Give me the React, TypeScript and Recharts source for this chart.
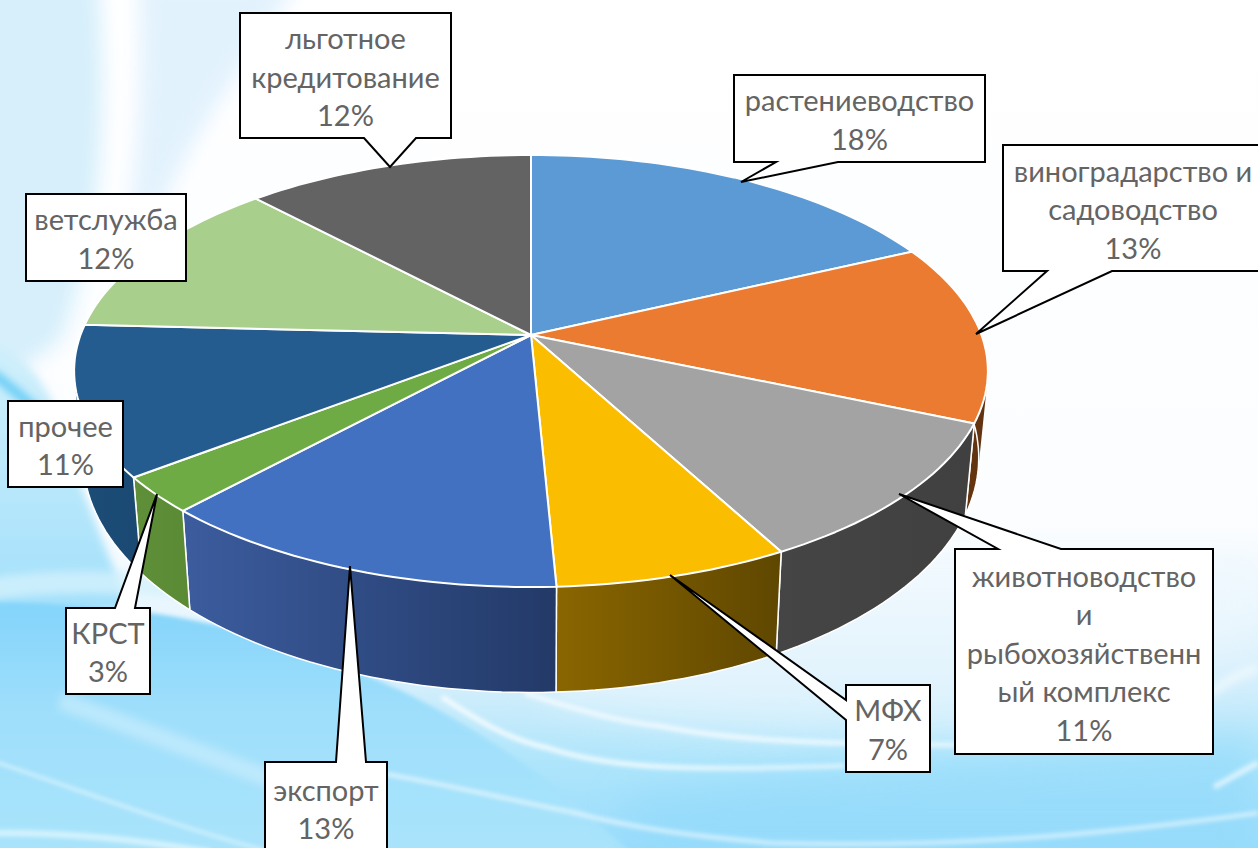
import { PieChart, Pie } from "recharts";

const CATEGORIES = [
  "растениеводство",
  "виноградарство и садоводство",
  "животноводство и рыбохозяйственный комплекс",
  "МФХ",
  "экспорт",
  "КРСТ",
  "прочее",
  "ветслужба",
  "льготное кредитование",
];
const VALUES = [18.0, 13.4, 10.7, 7.1, 12.6, 2.7, 11.2, 12.2, 12.0];
const LABEL_LINES = [
  ["растениеводство"],
  ["виноградарство и", "садоводство"],
  ["животноводство", "и", "рыбохозяйственн", "ый комплекс"],
  ["МФХ"],
  ["экспорт"],
  ["КРСТ"],
  ["прочее"],
  ["ветслужба"],
  ["льготное", "кредитование"],
];

const TOP_COLORS = ["#5B9AD5", "#EB7B30", "#A3A3A3", "#FBBD00", "#4371C2", "#6FAB45", "#255C8F", "#A9CF8C", "#636363"];
const WALL_FROM = ["#3c6a94", "#7a3f14", "#454545", "#8a6600", "#3c5c9e", "#5f8f38", "#1c4d78", "#6b8a58", "#3e3e3e"];
const WALL_TO = ["#2f5678", "#5f3210", "#404040", "#5f4700", "#233a68", "#5b8a35", "#1a4a72", "#5f7d4e", "#3a3a3a"];

// callout boxes: x, y, w, h + tail (edge, base a, base b, tip)
type Tail = { edge: "top" | "bottom" | "left"; a: number; b: number; tip: [number, number] };
type Box = { x: number; y: number; w: number; h: number; tail?: Tail };
const CALLOUTS: Box[] = [
  { x: 734, y: 75, w: 251, h: 87, tail: { edge: "bottom", a: 776, b: 838, tip: [741, 182] } },
  { x: 1003, y: 145, w: 260, h: 126, tail: { edge: "bottom", a: 1047, b: 1112, tip: [976, 334] } },
  { x: 955, y: 549, w: 258, h: 205, tail: { edge: "top", a: 998, b: 1061, tip: [899, 494] } },
  { x: 846, y: 685, w: 84, h: 87, tail: { edge: "left", a: 700, b: 720, tip: [670, 575] } },
  { x: 265, y: 762, w: 122, h: 92, tail: { edge: "top", a: 336, b: 366, tip: [350, 566] } },
  { x: 66, y: 608, w: 84, h: 86, tail: { edge: "top", a: 115, b: 135, tip: [157, 494] } },
  { x: 8, y: 401, w: 115, h: 86 },
  { x: 26, y: 194, w: 160, h: 87 },
  { x: 240, y: 13, w: 211, h: 125, tail: { edge: "bottom", a: 364, b: 416, tip: [390, 167] } },
];

const rows = CATEGORIES.map((name, i) => ({ name, value: VALUES[i], i }));

const CX = 531;
const CY = 335;
const RADIUS = 450.5;
const Y_RATIO = 210 / 450.5;
const PERSPECTIVE = 1 / 6;

// tilted disc: polar angle from recharts -> screen point
function project(cx: number, cy: number, r: number, angle: number): [number, number] {
  const t = ((90 - angle) * Math.PI) / 180;
  const u = Math.sin(t);
  const v = -Math.cos(t);
  const d = 1 - PERSPECTIVE * v;
  return [cx + (r * u) / d, cy + (r * Y_RATIO * v) / d];
}
// lower rim of the disc
function drop(p: [number, number], cx: number): [number, number] {
  return [cx + (p[0] - cx) * 0.98, p[1] * 1.086 + 55];
}
function arc(props: any) {
  const { cx, cy, outerRadius, startAngle, endAngle } = props;
  const n = Math.max(6, Math.ceil(Math.abs(endAngle - startAngle) / 1.5));
  const pts: [number, number][] = [];
  for (let k = 0; k <= n; k++) {
    pts.push(project(cx, cy, outerRadius, startAngle + ((endAngle - startAngle) * k) / n));
  }
  return pts;
}
const line = (pts: [number, number][]) => pts.map((p, k) => `${k ? "L" : "M"}${p[0].toFixed(1)} ${p[1].toFixed(1)}`).join("");

function TopShape(props: any) {
  const i = props.payload?.i ?? props.i;
  const pts = arc(props);
  return <path d={`M${props.cx} ${props.cy}${line(pts).replace("M", "L")}Z`} fill={TOP_COLORS[i]} stroke="#fff" strokeWidth={2} strokeLinejoin="round" />;
}

function WallShape(props: any) {
  const i = props.payload?.i ?? props.i;
  const top = arc(props);
  const low = top.map((p) => drop(p, props.cx));
  let quads = "";
  for (let k = 0; k < top.length - 1; k++) {
    const q: [number, number][] = [top[k], top[k + 1], low[k + 1], low[k]];
    const area = q.reduce((s, p, j) => s + p[0] * q[(j + 1) % 4][1] - q[(j + 1) % 4][0] * p[1], 0);
    quads += line(area < 0 ? [...q].reverse() : q) + "Z";
  }
  const gradId = `wall-${i}`;
  const last = top.length - 1;
  return (
    <g>
      <defs>
        <linearGradient id={gradId} x1="0" y1="0" x2="1" y2="0">
          <stop offset="0" stopColor={WALL_FROM[i]} />
          <stop offset="1" stopColor={WALL_TO[i]} />
        </linearGradient>
      </defs>
      <path d={quads} fill={`url(#${gradId})`} fillRule="nonzero" />
      <path d={line(low)} fill="none" stroke="#fff" strokeWidth={1.5} />
      <path d={line([top[0], low[0]])} fill="none" stroke="#fff" strokeWidth={1.5} />
      <path d={line([top[last], low[last]])} fill="none" stroke="#fff" strokeWidth={1.5} />
    </g>
  );
}

function boxOutline(b: Box) {
  const { x, y, w, h, tail } = b;
  const r = x + w;
  const m = y + h;
  const pts: [number, number][] = [[x, y]];
  if (tail?.edge === "top") pts.push([tail.a, y], tail.tip, [tail.b, y]);
  pts.push([r, y], [r, m]);
  if (tail?.edge === "bottom") pts.push([tail.b, m], tail.tip, [tail.a, m]);
  pts.push([x, m]);
  if (tail?.edge === "left") pts.push([x, tail.b], tail.tip, [x, tail.a]);
  return line(pts) + "Z";
}

function Callout(props: any) {
  const i = props.payload?.i ?? props.i ?? props.index;
  const b = CALLOUTS[i];
  const lines = [...LABEL_LINES[i], `${Math.round(VALUES[i])}%`];
  const mid = b.x + b.w / 2;
  const first = b.y + b.h / 2 - ((lines.length - 1) / 2) * 38.5 + 12;
  return (
    <g>
      <path d={boxOutline(b)} fill="#fff" stroke="#000" strokeWidth={2} strokeLinejoin="miter" />
      <text x={mid} y={first} textAnchor="middle" fill="#646464" fontSize={29} fontFamily="Lato, 'Open Sans', sans-serif">
        {lines.map((t, k) => (
          <tspan key={k} x={mid} y={first + k * 38.5}>
            {t}
          </tspan>
        ))}
      </text>
    </g>
  );
}

const soft = (id: string, dev: number) => (
  <filter id={id} filterUnits="userSpaceOnUse" x={-100} y={-100} width={1458} height={1048}>
    <feGaussianBlur stdDeviation={dev} />
  </filter>
);

function Backdrop() {
  return (
    <svg width={1258} height={848} style={{ position: "absolute", left: 0, top: 0 }}>
      <defs>
        <linearGradient id="bg" x1="0" y1="0" x2="0" y2="1">
          <stop offset="0" stopColor="#ffffff" />
          <stop offset="0.62" stopColor="#fbfdff" />
          <stop offset="0.72" stopColor="#e9f6fd" />
          <stop offset="0.8" stopColor="#d6effc" />
          <stop offset="0.9" stopColor="#aee5fb" />
          <stop offset="1" stopColor="#9adcfb" />
        </linearGradient>
        <linearGradient id="lowLeft" gradientUnits="userSpaceOnUse" x1="0" y1="370" x2="0" y2="610">
          <stop offset="0" stopColor="#cdeefb" />
          <stop offset="1" stopColor="#a2e0fb" />
        </linearGradient>
        <linearGradient id="deep" gradientUnits="userSpaceOnUse" x1="0" y1="603" x2="0" y2="848">
          <stop offset="0" stopColor="#84d4fb" />
          <stop offset="0.45" stopColor="#9fdffb" />
          <stop offset="1" stopColor="#a9e3fb" />
        </linearGradient>
        {soft("b2", 2)}
        {soft("b4", 4)}
        {soft("b10", 10)}
        {soft("b18", 18)}
      </defs>
      <rect width={1258} height={848} fill="url(#bg)" />
      <path d="M-20 -20H98C108 120 100 240 60 340L-20 400Z" fill="#d6effb" filter="url(#b10)" />
      <path d="M138 -20H300C240 70 190 140 165 200L120 300C135 190 145 90 138 -20Z" fill="#e2f2fd" filter="url(#b10)" />
      <path d="M-20 345C30 345 60 400 75 470L130 610H-20Z" fill="url(#lowLeft)" filter="url(#b4)" />
      <path d="M-20 600C80 606 180 606 300 650C380 680 440 700 560 790L640 860H-20Z" fill="url(#deep)" filter="url(#b2)" />
      <path d="M-10 372C10 385 30 405 60 430" fill="none" stroke="#62cbf6" strokeWidth={9} filter="url(#b4)" />
      <path d="M-20 590C60 578 140 580 240 596" fill="none" stroke="#d4f1fd" strokeOpacity={0.8} strokeWidth={22} filter="url(#b4)" />
      <path d="M442 697C480 722 510 740 548 748C620 772 720 770 845 766" fill="none" stroke="#fff" strokeOpacity={0.8} strokeWidth={5} filter="url(#b2)" />
      <path d="M525 693C570 708 620 722 660 726C720 738 790 745 1000 745" fill="none" stroke="#fff" strokeOpacity={0.75} strokeWidth={5} filter="url(#b2)" />
      <path d="M548 700C640 720 760 735 1000 730L1258 640V560H548Z" fill="#eef8fe" opacity={0.5} filter="url(#b18)" />
      <path d="M620 800C800 760 1000 770 1258 730V848H640Z" fill="#8fd9fb" opacity={0.55} filter="url(#b18)" />
      <path d="M380 773C450 785 510 800 576 813C640 830 710 838 772 843C950 848 1100 835 1258 813" fill="none" stroke="#fff" strokeOpacity={0.6} strokeWidth={4} filter="url(#b2)" />
      <path d="M1258 668C1235 675 1220 685 1205 698" fill="none" stroke="#fff" strokeOpacity={0.6} strokeWidth={8} filter="url(#b4)" />
      <path d="M1258 763C1240 772 1228 780 1214 787" fill="none" stroke="#fff" strokeOpacity={0.6} strokeWidth={6} filter="url(#b2)" />
      <path d="M-10 760C80 790 170 825 270 852" fill="none" stroke="#e6f8fe" strokeOpacity={0.75} strokeWidth={3} filter="url(#b2)" />
      <path d="M60 700C140 730 220 760 300 790" fill="none" stroke="#d2f1fd" strokeOpacity={0.55} strokeWidth={18} filter="url(#b4)" />
      <path d="M-10 833C60 832 130 838 210 852" fill="none" stroke="#e6f8fe" strokeOpacity={0.75} strokeWidth={6} filter="url(#b2)" />
    </svg>
  );
}

export default function App() {
  return (
    <div style={{ position: "fixed", left: 0, top: 0, width: 1258, height: 848, overflow: "hidden" }}>
      <Backdrop />
      <div style={{ position: "absolute", left: 0, top: 0 }}>
        <PieChart width={1258} height={848} margin={{ top: 0, right: 0, bottom: 0, left: 0 }}>
          <Pie
            data={rows}
            dataKey="value"
            nameKey="name"
            cx={CX}
            cy={CY}
            innerRadius={0}
            outerRadius={RADIUS}
            startAngle={90}
            endAngle={-270}
            shape={WallShape}
            isAnimationActive={false}
          />
          <Pie
            data={rows}
            dataKey="value"
            nameKey="name"
            cx={CX}
            cy={CY}
            innerRadius={0}
            outerRadius={RADIUS}
            startAngle={90}
            endAngle={-270}
            shape={TopShape}
            label={Callout}
            labelLine={false}
            isAnimationActive={false}
          />
        </PieChart>
      </div>
    </div>
  );
}
